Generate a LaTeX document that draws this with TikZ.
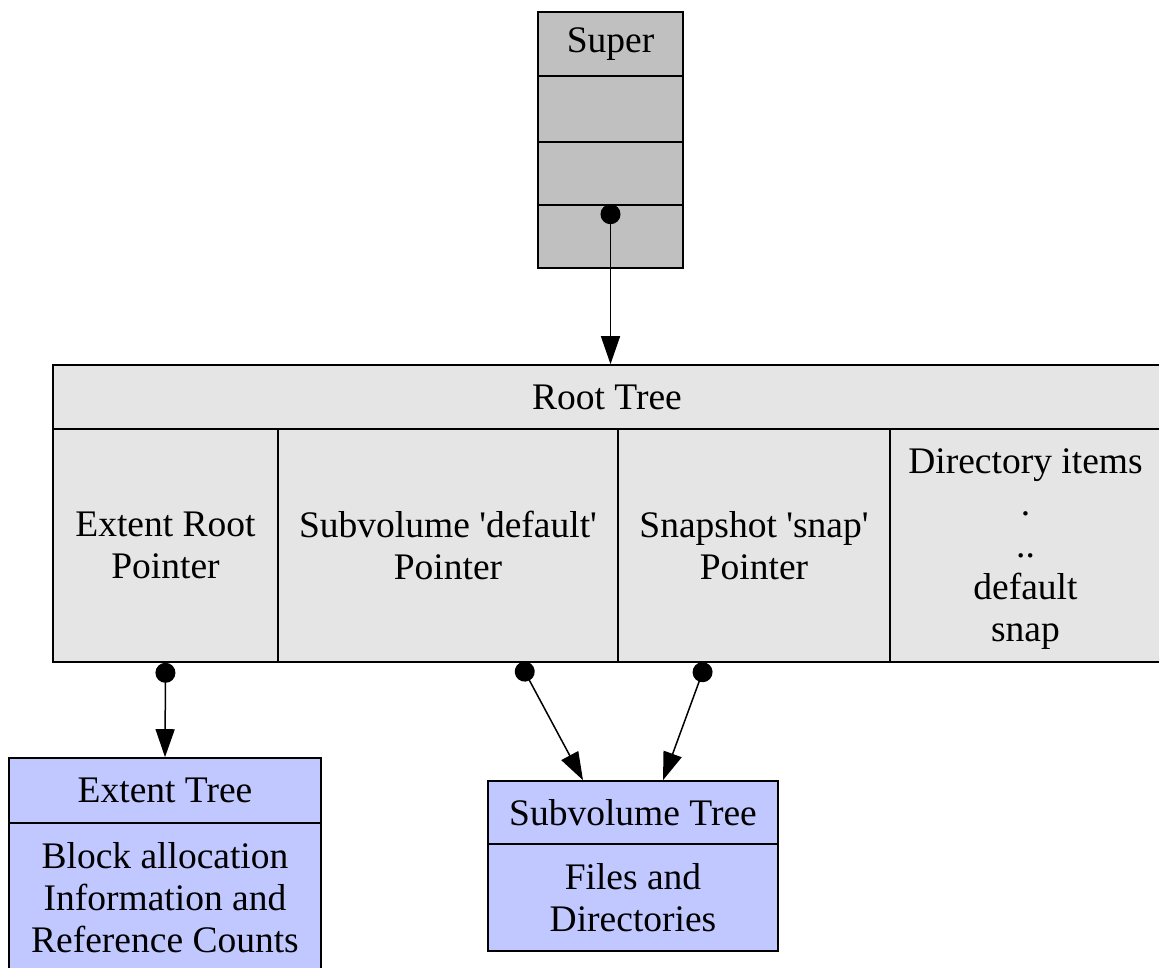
\documentclass[tikz,border=0pt]{standalone}
\usepackage{fontspec}
\setmainfont{Liberation Serif}
\usetikzlibrary{arrows.meta}
\definecolor{superfill}{HTML}{C0C0C0}
\definecolor{rootfill}{HTML}{E5E5E5}
\definecolor{treefill}{HTML}{C0C8FF}

\begin{document}
\begin{tikzpicture}[x=1pt, y=-1pt, line width=1.6pt,
    every node/.style={draw, rectangle, inner sep=0pt, align=center, font=\fontsize{37.5}{42}\selectfont},
    ptr/.style={{Circle[length=20pt]}-{Triangle[length=28pt, width=19pt]}, line width=1.5pt}]
    \useasboundingbox (0,0) rectangle (1159,968);
    \clip (0,0) rectangle (1159,968);

    % superblock
    \node[fill=superfill, minimum width=145, minimum height=64] at (610.5, 44)    (sup1) {Super};
    \node[fill=superfill, minimum width=145, minimum height=66] at (610.5, 109)   (sup2) {};
    \node[fill=superfill, minimum width=145, minimum height=63] at (610.5, 173.5) (sup3) {};
    \node[fill=superfill, minimum width=145, minimum height=63] at (610.5, 236.5) (sup4) {};

    % root tree
    \node[fill=rootfill, minimum width=1108, minimum height=64] at (607, 397) (root) {Root Tree};
    \node[fill=rootfill, minimum width=225, minimum height=233] at (165.5, 545.5)  (extptr)  {Extent Root\\Pointer};
    \node[fill=rootfill, minimum width=340, minimum height=233] at (448, 545.5)    (subptr)  {Subvolume \textquotesingle default\textquotesingle\\Pointer};
    \node[fill=rootfill, minimum width=272, minimum height=233] at (754, 545.5)    (snapptr) {Snapshot \textquotesingle snap\textquotesingle\\Pointer};
    \node[fill=rootfill, minimum width=271, minimum height=233, text depth=-8pt] at (1025.5, 545.5) (diritems) {Directory items\\.\\..\\default\\snap};

    % extent tree
    \node[fill=treefill, minimum width=312, minimum height=65]  at (165, 790.5) (extent)     {Extent Tree};
    \node[fill=treefill, minimum width=312, minimum height=150] at (165, 898)   (extentbody) {Block allocation\\Information and\\Reference Counts};

    % subvolume tree
    \node[fill=treefill, minimum width=290, minimum height=63]  at (633, 812.5) (subvol)     {Subvolume Tree};
    \node[fill=treefill, minimum width=290, minimum height=107] at (633, 897.5) (subvolbody) {Files and\\Directories};

    \draw[ptr] (sup4.north) -- (sup4.north |- root.north);
    \draw[ptr] (extptr.south) -- (extent.north);
    \draw[ptr] ([xshift=72pt]subptr.south) -- ([xshift=-50pt]subvol.north);
    \draw[ptr] ([xshift=-48pt]snapptr.south) -- ([xshift=30pt]subvol.north);
\end{tikzpicture}
\end{document}
